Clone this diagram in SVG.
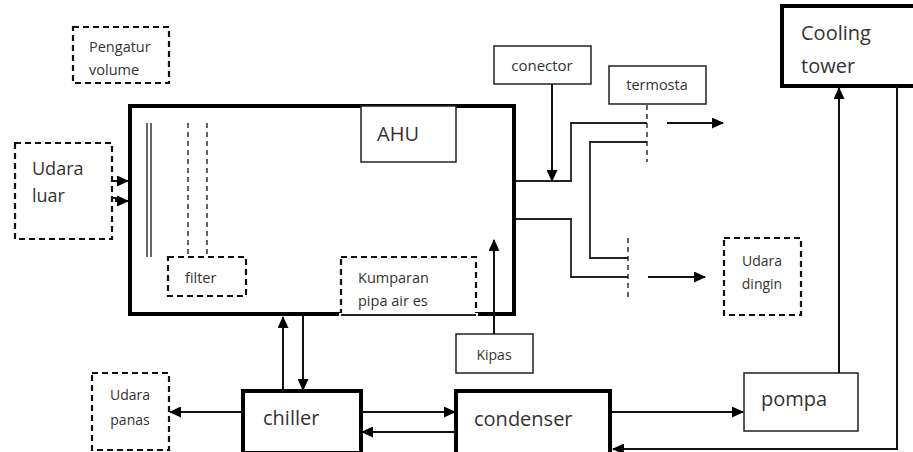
<svg xmlns="http://www.w3.org/2000/svg" width="913" height="452" viewBox="0 0 913 452">
<style>
text{font-family:"Open Sans","Noto Sans","DejaVu Sans",sans-serif;fill:#333}
.thick{fill:#fff;stroke:#000;stroke-width:4}
.thin{fill:#fff;stroke:#222;stroke-width:1.5}
.dash{fill:#fff;stroke:#111;stroke-width:2.2;stroke-dasharray:6 4}
.dashl{fill:none;stroke:#333;stroke-width:1.5;stroke-dasharray:5 4}
.ln{fill:none;stroke:#222;stroke-width:1.8}
.ar{fill:none;stroke:#111;stroke-width:2;marker-end:url(#ah)}
</style>
<defs>
<marker id="ah" markerWidth="12" markerHeight="11" refX="11" refY="5.5" orient="auto" markerUnits="userSpaceOnUse">
<path d="M0,0 L12,5.5 L0,11 Z" fill="#000"/>
</marker>
</defs>
<rect width="913" height="452" fill="#fff"/>

<g id="ahu">
<rect x="130" y="106" width="384" height="208" class="thick"/>
<rect x="361" y="106" width="95" height="56" class="thin"/>
<text x="377" y="141" font-size="20">AHU</text>
<line x1="147" y1="123" x2="147" y2="257" stroke="#333" stroke-width="1.5"/>
<line x1="151" y1="123" x2="151" y2="257" stroke="#333" stroke-width="1.5"/>
<line x1="188" y1="123" x2="188" y2="257" class="dashl"/>
<line x1="207" y1="123" x2="207" y2="257" class="dashl"/>
</g>

<g id="filter">
<rect x="168" y="257" width="78" height="39" class="dash"/>
<text x="185" y="283" font-size="14.5">filter</text>
</g>

<g id="kumparan">
<rect x="341" y="257" width="135" height="59" class="dash"/>
<line x1="339" y1="315" x2="478" y2="315" stroke="#fff" stroke-width="4"/>
<line x1="341" y1="315" x2="476" y2="315" stroke="#222" stroke-width="1.8"/>
<text x="358" y="283" font-size="14.5">Kumparan</text>
<text x="358" y="306" font-size="14.5">pipa air es</text>
</g>

<g id="pengatur">
<rect x="73" y="27" width="96" height="56" class="dash"/>
<text x="89" y="52" font-size="14.5">Pengatur</text>
<text x="89" y="75" font-size="14.5">volume</text>
</g>

<g id="udara-luar">
<rect x="15" y="143" width="97" height="96" class="dash"/>
<text x="32" y="175" font-size="18">Udara</text>
<text x="32" y="202" font-size="18">luar</text>
</g>

<g id="conector">
<rect x="494" y="46" width="97" height="38" class="thin"/>
<text x="542" y="71" font-size="15" text-anchor="middle">conector</text>
</g>

<g id="termosta">
<rect x="609" y="66" width="97" height="38" class="thin"/>
<text x="657" y="90" font-size="14.5" text-anchor="middle">termosta</text>
<line x1="647" y1="105" x2="647" y2="162" class="dashl"/>
<line x1="628" y1="238" x2="628" y2="297" class="dashl"/>
</g>

<g id="udara-dingin">
<rect x="724" y="238" width="77" height="77" class="dash"/>
<text x="762" y="266" font-size="14" text-anchor="middle">Udara</text>
<text x="762" y="289" font-size="14" text-anchor="middle">dingin</text>
</g>

<g id="cooling-tower">
<rect x="782" y="6" width="140" height="80" class="thick"/>
<text x="801" y="40" font-size="20">Cooling</text>
<text x="801" y="73" font-size="20">tower</text>
</g>

<g id="kipas">
<rect x="456" y="334" width="77" height="39" class="thin"/>
<text x="494" y="360" font-size="14" text-anchor="middle">Kipas</text>
</g>

<g id="udara-panas">
<rect x="92" y="373" width="77" height="77" class="dash"/>
<text x="130" y="400" font-size="14" text-anchor="middle">Udara</text>
<text x="130" y="425" font-size="14" text-anchor="middle">panas</text>
</g>

<g id="chiller">
<rect x="243" y="391" width="118" height="62" class="thick"/>
<text x="263" y="425" font-size="20">chiller</text>
</g>

<g id="condenser">
<rect x="456" y="391" width="154" height="64" class="thick"/>
<text x="474" y="426" font-size="20">condenser</text>
</g>

<g id="pompa">
<rect x="744" y="373" width="114" height="58" class="thin"/>
<text x="761" y="406" font-size="20">pompa</text>
</g>

<g id="connectors">
<path d="M112,181 H128" class="ar"/>
<path d="M112,198 H116 V201 H128" class="ar"/>
<path d="M552,84 V181" class="ar"/>
<path d="M516,181 H571 V123 H647" class="ln"/>
<path d="M647,142 H590 V258 H628" class="ln"/>
<path d="M516,219 H571 V277 H628" class="ln"/>
<path d="M667,123 H723" class="ar"/>
<path d="M648,277 H705" class="ar"/>
<path d="M494,334 V240" class="ar"/>
<path d="M283,391 V317" class="ar"/>
<path d="M303,316 V390" class="ar"/>
<path d="M243,412 H170" class="ar"/>
<path d="M361,412 H455" class="ar"/>
<path d="M456,432 H362" class="ar"/>
<path d="M612,412 H743" class="ar"/>
<path d="M839,373 V88" class="ar"/>
<path d="M897,86 V449 H613" class="ar"/>
</g>
</svg>
